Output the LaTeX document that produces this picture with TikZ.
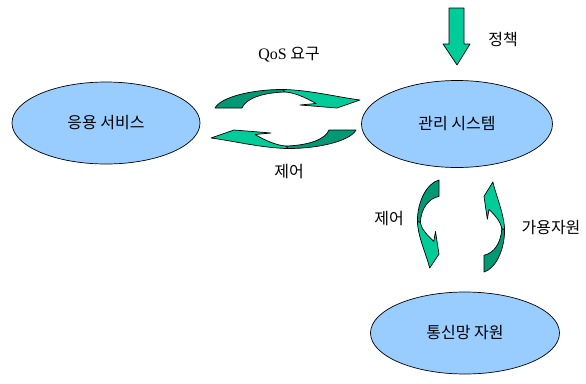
\documentclass[tikz,border=0pt]{standalone}
\usepackage{fontspec}
\setmainfont{Liberation Serif}
\newfontfamily\kr{Noto Sans CJK KR}
\usetikzlibrary{shapes.geometric}
\definecolor{ellblue}{RGB}{153,204,255}
\definecolor{dkgreen}{RGB}{0,153,115}
\definecolor{ltgreen}{RGB}{0,204,153}
\tikzset{
  ell/.style={ellipse, draw=black, line width=0.7pt, fill=ellblue, inner sep=0pt, font=\kr\fontsize{16}{19}\selectfont},
  lbl/.style={inner sep=0pt, font=\kr\fontsize{16}{19}\selectfont},
  darkpart/.style={fill=dkgreen, draw=black, line width=0.7pt, line join=round},
  lightpart/.style={fill=ltgreen, draw=black, line width=0.7pt, line join=round}
}
\newcommand\cvarrow{%
  \filldraw[darkpart] (0,0) .. controls (0.04,0.6) and (0.25,1.03) .. (0.469,1.03)
     -- (0.483,0.89) .. controls (0.32,0.85) and (0.21,0.5) .. (0.186,0) -- cycle;
  \filldraw[lightpart] (0.469,1.03) .. controls (0.65,1.0) and (0.85,0.6) .. (1,0.444)
     -- (0.841,0) -- (0.586,0.167) -- (0.697,0.25)
     .. controls (0.62,0.6) and (0.55,0.85) .. (0.483,0.89) -- cycle;
}
\begin{document}
\begin{tikzpicture}[x=1pt,y=-1pt]
\useasboundingbox (0,0) rectangle (586,383);
\fill[white] (0,0) rectangle (586,383);
% ellipses
\node[ell, minimum width=188pt, minimum height=82pt] (app) at (106,123) {응용 서비스};
\node[ell, minimum width=191pt, minimum height=87pt] (mgmt) at (457,124) {관리 시스템};
\node[ell, minimum width=189pt, minimum height=82pt] (net) at (465,333) {통신망 자원};
% down arrow (policy)
\filldraw[lightpart] (449,8) -- (464,8) -- (464,44) -- (470,44) -- (457,65) -- (443,44) -- (449,44) -- cycle;
% curved arrows
\begin{scope}[shift={(215,108)}, x={(145pt,0pt)}, y={(0pt,18pt)}]
  \cvarrow
\end{scope}
\begin{scope}[shift={(356,130)}, x={(-145pt,0pt)}, y={(0pt,-18pt)}]
  \cvarrow
\end{scope}
\begin{scope}[shift={(439,180)}, x={(0pt,-88pt)}, y={(-21pt,0pt)}]
  \cvarrow
\end{scope}
\begin{scope}[shift={(484,272)}, x={(0pt,90pt)}, y={(20pt,0pt)}]
  \cvarrow
\end{scope}
% labels
\node[lbl] (qos) at (289,55) {{\rmfamily QoS} 요구};
\node[lbl] (ctl1) at (289,172) {제어};
\node[lbl] (pol) at (503,40) {정책};
\node[lbl] (ctl2) at (389,219) {제어};
\node[lbl] (avail) at (551,228) {가용자원};
\end{tikzpicture}
\end{document}
